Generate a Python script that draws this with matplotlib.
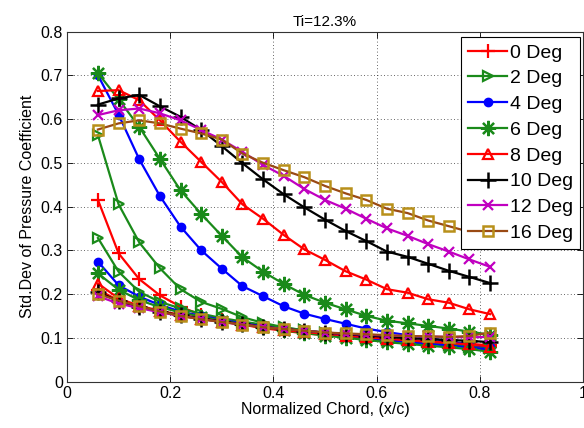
import numpy as np
import matplotlib
matplotlib.use("Agg")
import matplotlib.pyplot as plt

plt.rcParams["font.family"] = ["Liberation Sans", "DejaVu Sans"]

# ── DATA ──────────────────────────────────────────────────────────────────────
x_c = [0.06, 0.10, 0.14, 0.18, 0.22, 0.26, 0.30, 0.34, 0.38, 0.42,
       0.46, 0.50, 0.54, 0.58, 0.62, 0.66, 0.70, 0.74, 0.78, 0.82]

labels = ["0 Deg", "2 Deg", "4 Deg", "6 Deg", "8 Deg", "10 Deg", "12 Deg", "16 Deg"]

# suction-side branch (upper curves)
up_0  = [.415, .293, .234, .197, .171, .152, .140, .130, .122, .116,
         .110, .106, .102, .098, .095, .092, .089, .086, .083, .080]
up_2  = [.563, .405, .318, .259, .211, .182, .166, .147, .134, .124,
         .117, .111, .105, .100, .096, .092, .088, .084, .080, .076]
up_4  = [.700, .610, .508, .424, .354, .300, .258, .218, .195, .172,
         .155, .143, .132, .121, .113, .106, .099, .092, .085, .078]
up_6  = [.705, .645, .582, .509, .437, .383, .333, .284, .251, .223,
         .198, .180, .165, .150, .139, .133, .127, .121, .114, .107]
up_8  = [.664, .666, .643, .597, .548, .502, .456, .405, .372, .335,
         .302, .278, .252, .233, .211, .203, .188, .180, .165, .154]
up_10 = [.633, .647, .655, .629, .605, .575, .538, .499, .462, .428,
         .398, .370, .344, .321, .297, .285, .269, .253, .239, .225]
up_12 = [.609, .620, .624, .613, .597, .575, .553, .525, .495, .470,
         .440, .415, .395, .372, .350, .333, .314, .297, .279, .262]
up_16 = [.576, .590, .597, .590, .578, .567, .553, .521, .500, .483,
         .467, .447, .430, .415, .395, .385, .368, .355, .342, .330]

# pressure-side branch (lower curves)
lo_0  = [.210, .185, .170, .160, .150, .143, .137, .131, .125, .120,
         .115, .110, .106, .102, .098, .095, .092, .089, .086, .083]
lo_2  = [.328, .251, .205, .182, .167, .155, .145, .137, .130, .123,
         .117, .111, .106, .101, .097, .093, .089, .085, .081, .077]
lo_4  = [.274, .220, .194, .175, .160, .150, .141, .133, .126, .119,
         .113, .108, .103, .098, .094, .090, .086, .082, .078, .072]
lo_6  = [.247, .210, .186, .170, .158, .148, .139, .131, .124, .117,
         .111, .105, .100, .095, .090, .086, .082, .078, .074, .068]
lo_8  = [.224, .190, .173, .162, .152, .144, .137, .130, .124, .118,
         .113, .109, .105, .101, .098, .094, .091, .088, .085, .080]
lo_10 = [.205, .183, .170, .160, .151, .144, .137, .131, .125, .120,
         .116, .112, .108, .105, .102, .099, .097, .095, .093, .090]
lo_12 = [.195, .178, .168, .158, .150, .143, .136, .130, .125, .120,
         .116, .112, .109, .107, .105, .104, .103, .102, .101, .102]
lo_16 = [.200, .185, .172, .160, .150, .142, .136, .130, .124, .120,
         .116, .112, .110, .108, .106, .104, .103, .102, .104, .112]

upper = [up_0, up_2, up_4, up_6, up_8, up_10, up_12, up_16]
lower = [lo_0, lo_2, lo_4, lo_6, lo_8, lo_10, lo_12, lo_16]

# ── STYLES (MATLAB look) ──────────────────────────────────────────────────────
GREEN = "#1a8a1a"
styles = [
    dict(color="red",     marker="+", ms=10, mew=1.6, mfc="red",     mec="red"),
    dict(color=GREEN,     marker=">", ms=7,  mew=1.6, mfc="none",    mec=GREEN),
    dict(color="blue",    marker="o", ms=6,  mew=1.0, mfc="blue",    mec="blue"),
    dict(color=GREEN,     marker=(8, 2, 0), ms=11, mew=1.6, mfc=GREEN, mec=GREEN),
    dict(color="red",     marker="^", ms=7,  mew=1.6, mfc="none",    mec="red"),
    dict(color="black",   marker="+", ms=11, mew=1.8, mfc="black",   mec="black"),
    dict(color="#c000c0", marker="x", ms=7,  mew=1.6, mfc="#c000c0", mec="#c000c0"),
    dict(color="#9a4a14", marker="s", ms=7,  mew=1.8, mfc="none",    mec="#b8901a"),
]

fig = plt.figure(figsize=(5.84, 4.28), dpi=100, facecolor="white")
ax = fig.add_axes([0.1147, 0.1086, 0.8836, 0.8178])

handles = []
for up, lo, st, lab in zip(upper, lower, styles, labels):
    h, = ax.plot(x_c, up, lw=1.6, label=lab, **st)
    ax.plot(x_c, lo, lw=1.6, **st)
    handles.append(h)

ax.set_xlim(0, 1)
ax.set_ylim(0, 0.8)
ax.set_xticks([0, 0.2, 0.4, 0.6, 0.8, 1])
ax.set_xticklabels(["0", "0.2", "0.4", "0.6", "0.8", "1"])
ax.set_yticks(np.arange(0, 0.81, 0.1))
ax.set_yticklabels(["0", "0.1", "0.2", "0.3", "0.4", "0.5", "0.6", "0.7", "0.8"])
ax.tick_params(direction="in", top=True, right=True, labelsize=11.5,
               length=4, width=0.6, pad=3)
ax.grid(True, linestyle=(0, (1, 3)), color="black", linewidth=0.6, alpha=0.8)
for s in ax.spines.values():
    s.set_linewidth(0.8)
    s.set_color("#333333")

ax.set_xlabel("Normalized Chord, (x/c)", fontsize=11.5, labelpad=1)
ax.set_ylabel("Std.Dev of Pressure Coefficient", fontsize=11.5, labelpad=4)
ax.set_title("Ti=12.3%", fontsize=11, pad=4)

leg = ax.legend(handles=handles, loc="upper right", bbox_to_anchor=(0.994, 0.984),
                borderaxespad=0, fontsize=14, handlelength=2.0,
                handletextpad=0.15, labelspacing=0.42, borderpad=0.35,
                fancybox=False, framealpha=1, edgecolor="black")
leg.get_frame().set_linewidth(0.8)

fig.savefig("out.png", dpi=100, facecolor="white")
